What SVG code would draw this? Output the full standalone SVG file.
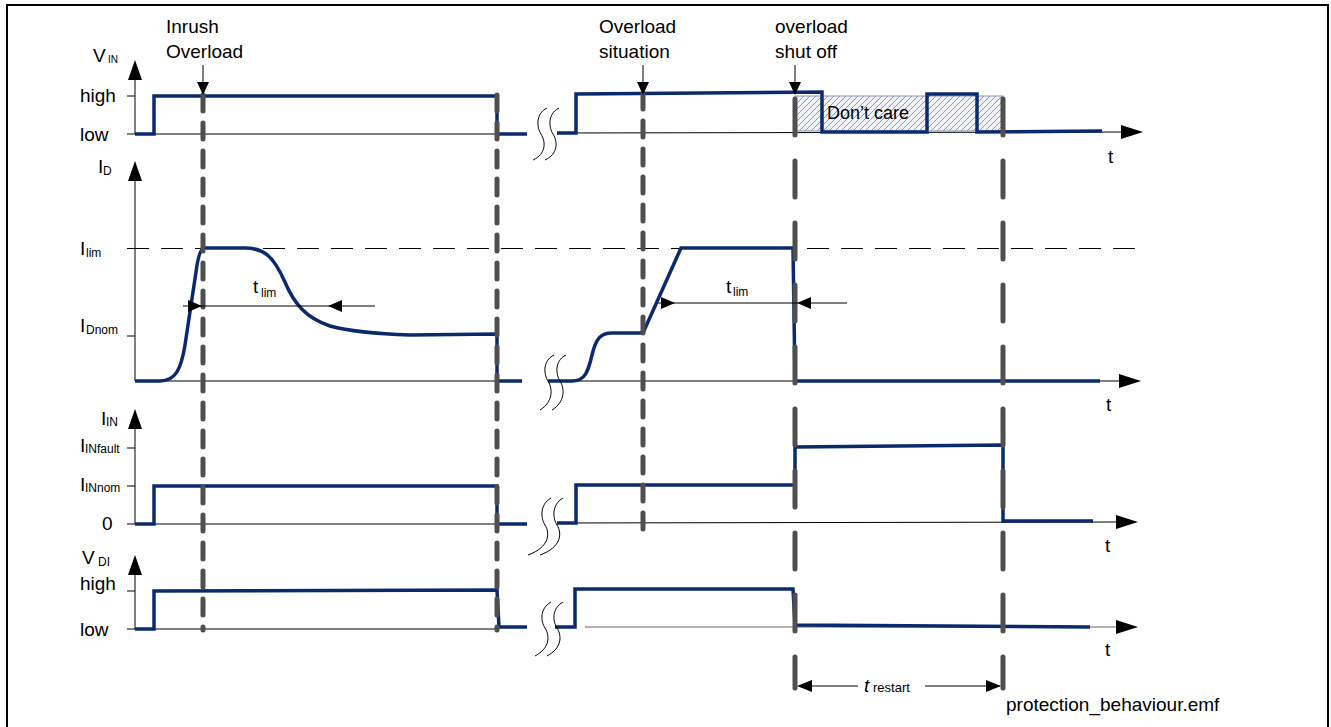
<svg xmlns="http://www.w3.org/2000/svg" width="1331" height="727" viewBox="0 0 1331 727">
<style>
text{font-family:"Liberation Sans",Arial,sans-serif;fill:#000}
.lb{font-size:19px}
.sb{font-size:12px}
.ax{stroke:#000;stroke-width:1;fill:none}
.sig{stroke:#0b2a6e;stroke-width:3.5;fill:none;stroke-linejoin:miter}
.gd1{stroke:#4f4f4f;stroke-width:5;stroke-linecap:round;stroke-dasharray:16 12;fill:none}
.gd2{stroke:#4f4f4f;stroke-width:5;stroke-linecap:round;stroke-dasharray:36 26;fill:none}
.brk{stroke:#000;stroke-width:1;fill:none}
.ah{fill:#000}
.thin{stroke:#000;stroke-width:1;fill:none}
</style>
<defs>
<pattern id="hatch" patternUnits="userSpaceOnUse" width="6" height="6">
<rect width="6" height="6" fill="#f2f4fa"/>
<path d="M-1,7 L7,-1 M-1,1 L1,-1 M5,7 L7,5" stroke="#7d8cb8" stroke-width="0.9"/>
</pattern>
</defs>
<rect x="7" y="5" width="1321" height="732" fill="#fff" stroke="#000" stroke-width="2"/>

<g id="panel-vin">
<path class="ax" d="M135,134 V78 M127,96 H135 M127,134 H497 M557,133 L1125,132"/>
<path class="ah" d="M135,60 L128,80 L142,80 Z"/>
<path class="ah" d="M1143,132 L1121,125 L1121,139 Z"/>
<text class="lb" x="93" y="62">V</text><text font-size="10" x="108" y="63">IN</text>
<text class="lb" x="80" y="102">high</text>
<text class="lb" x="80" y="141">low</text>
<text class="lb" x="1108" y="163">t</text>
<rect x="795" y="96" width="208" height="35" fill="url(#hatch)" stroke="#8896c0" stroke-width="1"/>
<text font-size="18" x="827" y="119">Don’t care</text>
<path class="sig" d="M135,134 H154 V96 H497 V134 H527"/>
<path class="sig" d="M557,133 H576 V94 L822,92 V132 H927 V94 H977 V132 L1102,131"/>
</g>

<g id="panel-id">
<path class="ax" d="M135,381 V178 M127,336 H135 M135,381 H497 M548,381 H1122"/>
<path d="M127,248.5 H1140" stroke="#000" stroke-width="1.2" stroke-dasharray="22 12"/>
<path class="ah" d="M135,161 L128,181 L142,181 Z"/>
<path class="ah" d="M1141,381 L1119,374 L1119,388 Z"/>
<text class="lb" x="98" y="173">I</text><text class="sb" x="103" y="175">D</text>
<text class="lb" x="80" y="255">I</text><text class="sb" x="86" y="257">lim</text>
<text class="lb" x="80" y="332">I</text><text class="sb" x="86" y="334">Dnom</text>
<text class="lb" x="1106" y="411">t</text>
<path class="sig" d="M135,381 L160,381 C175,381 181,370 185,345 L196,272 Q199,249 204,248 L245,248 C265,248 274,258 284,280 C294,304 306,318 330,326 C352,332 380,334 410,335 L497,334 L497,381 L522,381"/>
<path class="sig" d="M548,381 L572,381 C585,381 588,372 592,355 C596,338 601,333 612,333 L643,333 L681,248 L793,248 L795,381 L1100,381"/>
</g>

<g id="panel-iin">
<path class="ax" d="M135,524 V426 M127,448 H135 M127,486 H135 M127,524 H497 M557,523 L1120,522"/>
<path class="ah" d="M135,409 L128,429 L142,429 Z"/>
<path class="ah" d="M1138,522 L1116,515 L1116,529 Z"/>
<text class="lb" x="101" y="425">I</text><text class="sb" x="106" y="426">IN</text>
<text class="lb" x="80" y="452">I</text><text class="sb" x="85" y="453">INfault</text>
<text class="lb" x="80" y="491">I</text><text class="sb" x="85" y="492">INnom</text>
<text class="lb" x="102" y="530">0</text>
<text class="lb" x="1105" y="552">t</text>
<path class="sig" d="M135,524 H154 V486 H497 V524 H527"/>
<path class="sig" d="M557,523 H576 V485 H795 V447 L1003,445 V521 H1093"/>
</g>

<g id="panel-vdi">
<path class="ax" d="M135,629 V573 M127,591 H135 M127,629 H497"/>
<path d="M585,627 L1120,627" stroke="#666" stroke-width="1.2" fill="none"/>
<path class="ah" d="M135,555 L128,575 L142,575 Z"/>
<path class="ah" d="M1138,627 L1116,620 L1116,634 Z"/>
<text class="lb" x="82" y="564">V</text><text class="sb" x="98" y="566">DI</text>
<text class="lb" x="80" y="590">high</text>
<text class="lb" x="80" y="636">low</text>
<text class="lb" x="1105" y="656">t</text>
<path class="sig" d="M135,629 H154 V591 L497,590 L499,627 H527"/>
<path class="sig" d="M555,627 H575 V589 H793 L795,625 L1090,627"/>
</g>

<g id="breaks">
<path class="brk" d="M547,108 C535,114 537,128 541,134 C546,142 546,154 533,160 M559,108 C547,114 549,128 553,134 C558,142 558,154 545,160"/>
<path class="brk" d="M554,355 C542,361 544,375 548,381 C553,389 553,402 540,410 M566,355 C554,361 556,375 560,381 C565,389 565,402 552,410"/>
<path class="brk" d="M551,498 C539,505 541,519 545,525 C550,533 550,547 528,555 M563,498 C551,505 553,519 557,525 C562,533 562,547 540,555"/>
<path class="brk" d="M551,602 C539,609 541,622 545,628 C550,636 550,648 535,656 M563,602 C551,609 553,622 557,628 C562,636 562,648 547,656"/>
</g>

<g id="markers">
<path class="gd1" d="M203,95 V630"/>
<path class="gd1" d="M497,95 V630"/>
<path class="gd1" d="M643,93 V529"/>
<path class="gd2" d="M795,99 V688"/>
<path class="gd2" d="M1003,99 V688"/>
</g>

<g id="annotations">
<text class="lb" x="166" y="33">Inrush</text>
<text class="lb" x="166" y="58">Overload</text>
<text class="lb" x="599" y="33">Overload</text>
<text class="lb" x="599" y="58">situation</text>
<text class="lb" x="775" y="33">overload</text>
<text class="lb" x="775" y="58">shut off</text>
<text class="lb" x="253" y="293">t</text><text class="sb" x="261" y="297">lim</text>
<text class="lb" x="726" y="293">t</text><text class="sb" x="733" y="296">lim</text>
<text class="lb" x="864" y="692" font-style="italic">t</text><text font-size="13" x="873" y="692">restart</text>
<text font-size="19" x="1006" y="711">protection_behaviour.emf</text>
</g>

<g id="connectors">
<path class="thin" d="M203,65 V84"/>
<path class="ah" d="M203,95 L197,82 L209,82 Z"/>
<path class="thin" d="M643,65 V84"/>
<path class="ah" d="M643,95 L637,82 L649,82 Z"/>
<path class="thin" d="M795,65 V84"/>
<path class="ah" d="M795,95 L789,82 L801,82 Z"/>
<path class="thin" d="M183,306 H375"/>
<path class="ah" d="M202,306 L188,300 L188,312 Z"/>
<path class="ah" d="M328,306 L342,300 L342,312 Z"/>
<path class="thin" d="M658,303 H847"/>
<path class="ah" d="M675,303 L661,297 L661,309 Z"/>
<path class="ah" d="M797,303 L811,297 L811,309 Z"/>
<path class="thin" d="M800,686 H858 M925,686 H1000"/>
<path class="ah" d="M797,686 L812,680 L812,692 Z"/>
<path class="ah" d="M1001,686 L986,680 L986,692 Z"/>
</g>
</svg>
